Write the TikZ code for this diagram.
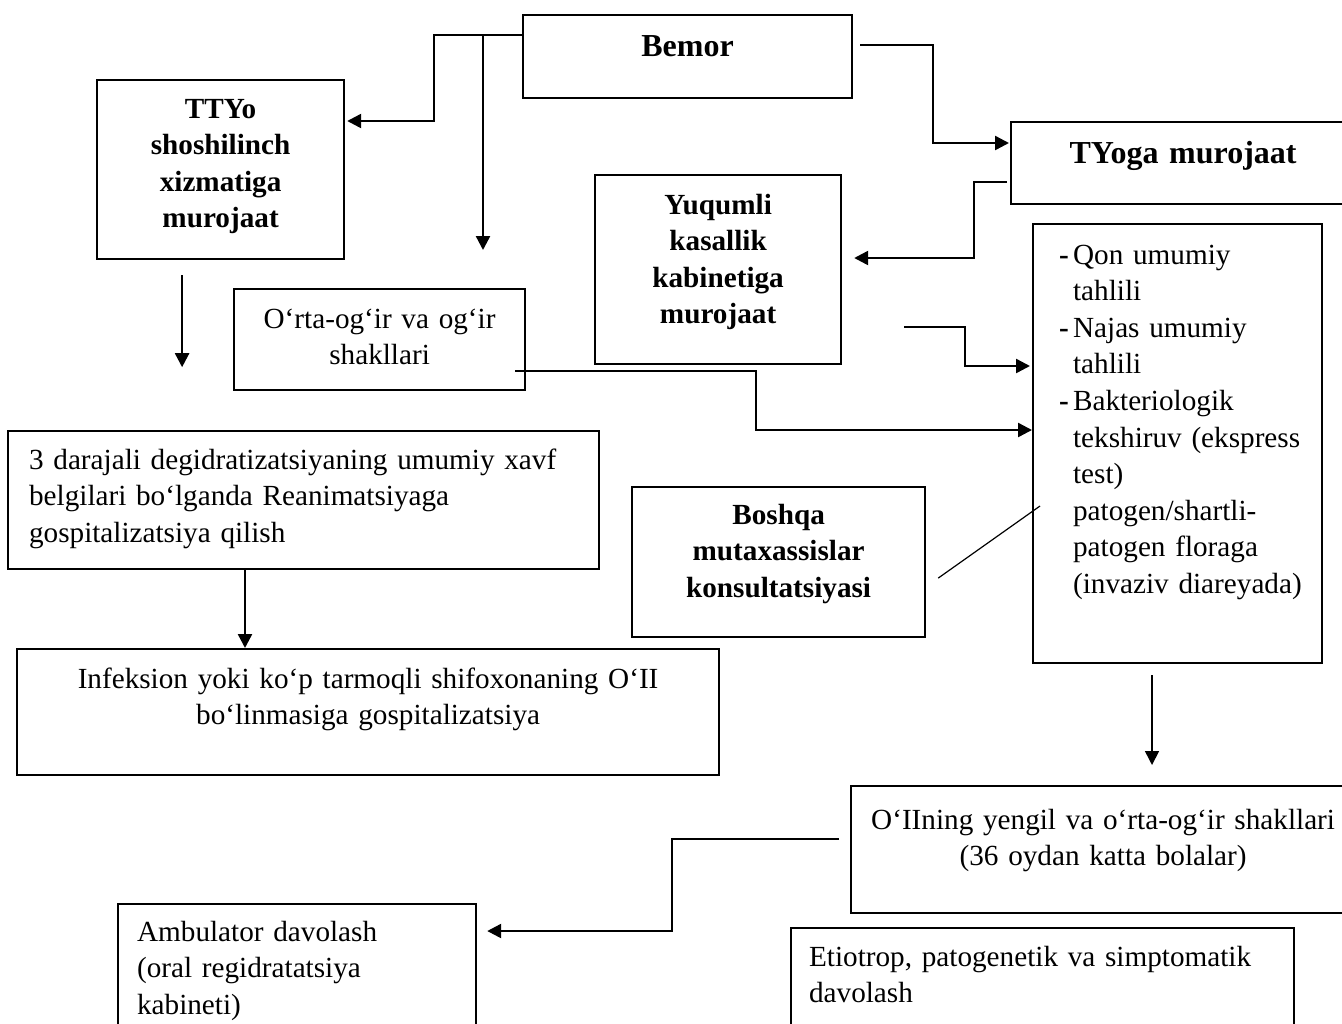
\documentclass[tikz,border=0pt]{standalone}
\usepackage{fontspec}
\setmainfont{Liberation Serif}
\usepackage{tikz}
\usetikzlibrary{arrows.meta,%
  calc%
}

\begin{document}
\begin{tikzpicture}
                    [x=0.5pt, y=-0.5pt,
                    bx/.style={rectangle, draw,
                        line width=1.1pt, anchor=north west,
                        inner xsep=0pt, inner ysep=0pt, align=center,
                        font=\fontsize{14.6}{18.3}\selectfont},
                    lft/.style={align=left},
                    bf/.style={font=\fontsize{14.6}{18.3}\selectfont\bfseries},
                    big/.style={font=\fontsize{16}{19}\selectfont\bfseries},
                    arr/.style={-{Triangle[length=7pt,width=7pt]},
                        line width=1.2pt},
                    ln/.style={line width=0.6pt}]

                    \clip (0,0) rectangle (1342,1023);

                    % boxes
                    \node[bx, big, text width=164.5pt, text height=20.5pt, text depth=21pt] at (522,14)
                        (bemor) {Bemor};
                    \node[bx, bf, text width=123.5pt, text height=19pt, text depth=70.5pt] at (96,79)
                        (ttyo) {TTYo\\shoshilinch\\xizmatiga\\murojaat};
                    \node[bx, big, text width=172pt, text height=20.5pt, text depth=20.5pt] at (1010,121)
                        (tyoga) {TYoga murojaat};
                    \node[bx, bf, text width=123pt, text height=19.5pt, text depth=75pt] at (594,174)
                        (yuq) {Yuqumli\\kasallik\\kabinetiga\\murojaat};
                    \node[bx, text width=145.5pt, text height=19.5pt, text depth=31pt] at (233,288)
                        (orta) {O‘rta-og‘ir va og‘ir\\shakllari};
                    \node[bx, lft, inner xsep=3pt, text width=138.5pt, text height=20pt, text depth=199.5pt] at (1032,223)
                        (list) {\hspace*{10pt}\makebox[7pt][l]{\textbf{-}}Qon umumiy\\
                                \hspace*{17pt}tahlili\\
                                \hspace*{10pt}\makebox[7pt][l]{\textbf{-}}Najas umumiy\\
                                \hspace*{17pt}tahlili\\
                                \hspace*{10pt}\makebox[7pt][l]{\textbf{-}}Bakteriologik\\
                                \hspace*{17pt}tekshiruv (ekspress\\
                                \hspace*{17pt}test)\\
                                \hspace*{17pt}patogen/shartli-\\
                                \hspace*{17pt}patogen floraga\\
                                \hspace*{17pt}(invaziv diareyada)};
                    \node[bx, lft, inner xsep=10.5pt, text width=274.5pt, text height=19pt, text depth=50pt] at (7,430)
                        (dar) {3 darajali degidratizatsiyaning umumiy xavf\\
                               belgilari bo‘lganda Reanimatsiyaga\\
                               gospitalizatsiya qilish};
                    \node[bx, bf, text width=146.5pt, text height=18.5pt, text depth=56.5pt] at (631,486)
                        (boshqa) {Boshqa\\mutaxassislar\\konsultatsiyasi};
                    \node[bx, text width=351pt, text height=19.5pt, text depth=43.5pt] at (16,648)
                        (inf) {Infeksion yoki ko‘p tarmoqli shifoxonaning O‘II\\
                               bo‘linmasiga gospitalizatsiya};
                    \node[bx, text width=252pt, text height=21.5pt, text depth=42pt] at (850,785)
                        (oii) {O‘IIning yengil va o‘rta-og‘ir shakllari\\
                               (36 oydan katta bolalar)};
                    \node[bx, lft, inner xsep=9.5pt, text width=160pt, text height=18.5pt, text depth=52.5pt] at (117,903)
                        (amb) {Ambulator davolash\\(oral regidratatsiya\\kabineti)};
                    \node[bx, lft, inner xsep=9pt, text width=233.5pt, text height=19pt, text depth=50pt] at (790,927)
                        (eti) {Etiotrop, patogenetik va simptomatik\\davolash};

                    % free ends
                    \coordinate (ortaIn) at ($(orta.north west)+(250,-38)$);
                    \coordinate (ttyoOut) at ($(ttyo.south)+(-38.5,107)$);
                    \coordinate (oiiIn) at ($(oii.north west)+(302,-20)$);

                    % connectors
                    \draw[arr] ($(bemor.north west)+(0,21)$) -| ($(ttyo.north east)+(89,42)$)
                        -- ($(ttyo.north east)+(2,42)$);
                    \draw[arr] ($(bemor.north west)+(-39,21)$) -- (ortaIn);
                    \draw[arr] ($(ttyo.south)+(-38.5,15)$) -- (ttyoOut);
                    \draw[arr] ($(bemor.north east)+(7,31)$) -| ($(tyoga.north west)+(-77,22)$)
                        -- ($(tyoga.north west)+(-1,22)$);
                    \draw[arr] ($(tyoga.north west)+(-3,61)$) -| ($(yuq.north east)+(132,84)$)
                        -- ($(yuq.north east)+(12,84)$);
                    \draw[arr] ($(yuq.north east)+(62,153)$) -| ($(list.north west)+(-67,143)$)
                        -- ($(list.north west)+(-2,143)$);
                    \draw[arr] ($(orta.north east)+(-11,83)$) -| ($(list.north west)+(-276,207)$)
                        -- ($(list.north west)+(0,207)$);
                    \draw[ln] ($(boshqa.east)+(12,16)$) -- ($(list.north west)+(8,283)$);
                    \draw[arr] ($(dar.south west)+(238,0)$) -- ($(inf.north west)+(229,0)$);
                    \draw[arr, line width=0.8pt] ($(list.south west)+(120,11)$) -- (oiiIn);
                    \draw[arr] ($(oii.north west)+(-11,54)$) -| ($(amb.north east)+(195,28)$)
                        -- ($(amb.north east)+(10,28)$);
                \end{tikzpicture}
\end{document}
